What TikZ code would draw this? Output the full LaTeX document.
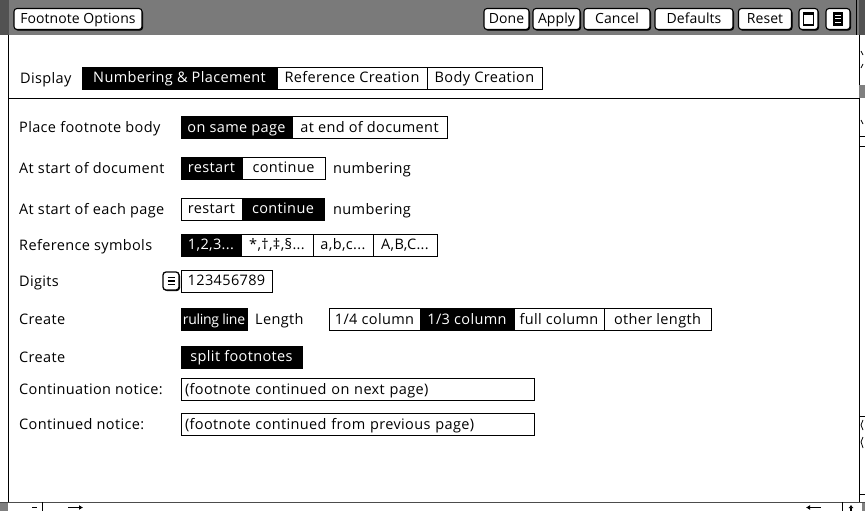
\documentclass[tikz,border=0pt]{standalone}
\usepackage{fontspec}
\setmainfont[LetterSpace=2.5]{Open Sans}
\usetikzlibrary{shadows,arrows.meta}
\begin{document}
\begin{tikzpicture}[x=1pt,y=-1pt,
  every node/.style={font=\fontsize{14.5}{16}\selectfont, inner sep=0pt},
  btn/.style={draw, line width=0.9pt, fill=white, text=black, minimum height=22, text height=11, text depth=2},
  sel/.style={btn, fill=black, text=white},
  tbtn/.style={draw, line width=1.1pt, fill=white, rounded corners=3pt, minimum height=21, text height=11, text depth=2,
     font=\fontsize{14}{16}\selectfont\addfontfeature{LetterSpace=0.5},
     drop shadow={shadow xshift=1pt, shadow yshift=-1.2pt, fill=black, opacity=1}},
  lbl/.style={anchor=base west},
  fld/.style={btn, text width=345, align=left, inner xsep=4pt},
]
\useasboundingbox (0,0) rectangle (865,511);
\fill[white] (0,0) rectangle (865,511);
% title bar
\fill[black!52] (0,0) rectangle (865,35);
\fill[black!68] (0,0) rectangle (9,35);
\fill[black!68] (859,0) rectangle (865,35);
\draw[line width=1pt] (856,0) -- (856,35);
\node[tbtn, minimum width=128] (title) at (78,19) {Footnote Options};
\node[tbtn, minimum width=45] (done) at (506.5,19) {Done};
\node[tbtn, minimum width=47] (apply) at (556.5,19) {Apply};
\node[tbtn, minimum width=66] (cancel) at (617,19) {Cancel};
\node[tbtn, minimum width=78] (defaults) at (694,19) {Defaults};
\node[tbtn, minimum width=53] (reset) at (765,19) {Reset};
\node[tbtn, minimum width=19, minimum height=21] (win) at (808.5,19) {};
\node[tbtn, minimum width=24, minimum height=21] (menu) at (838,19) {};
\draw[line width=1.3pt] ([shift={(-5,-6)}]win.center) rectangle ([shift={(5,6)}]win.center);
\fill ([shift={(-5,-6)}]win.center) rectangle ([shift={(5,-3.5)}]win.center);
\fill ([shift={(-5,-7)}]menu.center) rectangle ([shift={(5,7)}]menu.center);
\foreach \d in {-3.5,0,3.5}
  \draw[white, line width=1pt] ([shift={(-3,\d)}]menu.center) -- ([shift={(3,\d)}]menu.center);
% frame
\draw[line width=1pt] (8,35) -- (8,502);
\draw[line width=1pt] (859,35) -- (859,502);
\draw[line width=1pt] (8,98) -- (859,98);
\draw[line width=0.8pt, black!70] (0,502) -- (865,502);
% scroll bar marks
\fill[black!50] (859,85) rectangle (865,98);
\draw[line width=0.8pt] (861,51) -- (863,55) (861,68) -- (863,64) (861,120) -- (863,124);
\draw[line width=0.8pt] (859,136) -- (865,136) (859,146) -- (865,146) (859,416) -- (865,416) (859,494) -- (865,494);
\draw[line width=0.8pt] (863,420) -- (861,425) -- (863,430) (863,437) -- (861,442) -- (863,448);
% bottom bar
\fill[black!50] (0,503) rectangle (8,511);
\fill[black!50] (862,503) rectangle (865,511);
\draw[line width=1pt] (32,507) -- (37,507);
\draw[line width=0.8pt] (42,502) -- (42,511) (842,502) -- (842,511);
\draw[line width=1.4pt, -{Latex[length=4pt,width=5pt]}] (68,507.5) -- (83,507.5);
\draw[line width=1.4pt, -{Latex[length=4pt,width=5pt]}] (821,507.5) -- (806,507.5);
\draw[line width=1.4pt, -{Latex[length=3pt,width=5pt]}] (851,511) -- (851,505);
% display row
\node[lbl] (disp) at (20,83.5) {Display};
\node[sel, minimum width=195] (numpl) at (179.5,78.5) {Numbering \& Placement};
\node[btn, minimum width=150] (refcr) at (352,78.5) {Reference Creation};
\node[btn, minimum width=115] (bodycr) at (484.5,78.5) {Body Creation};
% row 1
\node[lbl] (l1) at (19,132.5) {Place footnote body};
\node[sel, minimum width=111] (onsame) at (236.5,127.5) {on same page};
\node[btn, minimum width=155] (atend) at (369.5,127.5) {at end of document};
% row 2
\node[lbl] (l2) at (19,173) {At start of document};
\node[sel, minimum width=61] (rs1) at (211.5,168) {restart};
\node[btn, minimum width=83] (ct1) at (283.5,168) {continue};
\node[lbl] (n1) at (333,173) {numbering};
% row 3
\node[lbl] (l3) at (19,214) {At start of each page};
\node[btn, minimum width=61] (rs2) at (211.5,209) {restart};
\node[sel, minimum width=82] (ct2) at (283,209) {continue};
\node[lbl] (n2) at (333,214) {numbering};
% row 4
\node[lbl] (l4) at (19,250) {Reference symbols};
\node[sel, minimum width=60] (s1) at (211,245) {1,2,3...};
\node[btn, minimum width=72] (s2) at (277,245) {*,†,‡,§...};
\node[btn, minimum width=60] (s3) at (343,245) {a,b,c...};
\node[btn, minimum width=64] (s4) at (405,245) {A,B,C...};
% row 5
\node[lbl] (l5) at (19,286) {Digits};
\node[draw, line width=1.3pt, rounded corners=3pt, minimum width=16, minimum height=18,
      drop shadow={shadow xshift=1pt, shadow yshift=-1pt, fill=black, opacity=1}, fill=white] (dig) at (171,281) {};
\foreach \d in {-3.5,0,3.5}
  \draw[line width=1.2pt] ([shift={(-3.5,\d)}]dig.center) -- ([shift={(3.5,\d)}]dig.center);
\node[btn, minimum width=91] (digits) at (226.5,281) {123456789};
% row 6
\node[lbl] (l6) at (19,324.5) {Create};
\node[sel, minimum width=66, font=\fontsize{14}{16}\selectfont\addfontfeature{LetterSpace=-2}] (ruling) at (214,319.5) {ruling line};
\node[lbl] (len) at (255,324.5) {Length};
\node[btn, minimum width=91] (q) at (374.5,319.5) {1/4 column};
\node[sel, minimum width=94] (t) at (467,319.5) {1/3 column};
\node[btn, minimum width=90] (fc) at (559,319.5) {full column};
\node[btn, minimum width=107] (ol) at (657.5,319.5) {other length};
% row 7
\node[lbl] (l7) at (19,362) {Create};
\node[sel, minimum width=121] (split) at (241.5,357) {split footnotes};
% row 8
\node[lbl] (l8) at (19,394.5) {Continuation notice:};
\node[fld, minimum width=353] (cn) at (357.5,389.5) {(footnote continued on next page)};
% row 9
\node[lbl] (l9) at (19,429.5) {Continued notice:};
\node[fld, minimum width=353] (cd) at (357.5,424.5) {(footnote continued from previous page)};
\end{tikzpicture}
\end{document}
